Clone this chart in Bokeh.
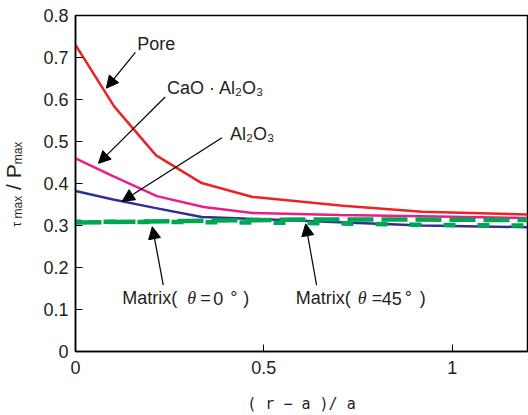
from bokeh.plotting import figure
from bokeh.models import Range1d, FixedTicker, Label, Arrow, NormalHead, Div
from bokeh.layouts import row
from bokeh.embed import file_html
from bokeh.resources import INLINE

# ---- data ----
pore_x = [0, 0.103, 0.214, 0.335, 0.47, 0.71, 0.92, 1.2]
pore_y = [0.73, 0.583, 0.467, 0.401, 0.368, 0.347, 0.333, 0.326]
cao_x = [0, 0.098, 0.216, 0.34, 0.47, 0.7, 0.92, 1.2]
cao_y = [0.46, 0.418, 0.37, 0.344, 0.330, 0.325, 0.322, 0.318]
al_x = [0, 0.1, 0.21, 0.335, 0.5, 0.75, 0.92, 1.2]
al_y = [0.382, 0.362, 0.342, 0.320, 0.315, 0.306, 0.300, 0.296]
m0_x = [0, 0.3, 0.6, 0.9, 1.2]
m0_y = [0.307, 0.311, 0.314, 0.314, 0.313]
m45_x = [0, 0.3, 0.6, 0.9, 1.2]
m45_y = [0.309, 0.308, 0.306, 0.302, 0.300]

y_ticks = [0, 0.1, 0.2, 0.3, 0.4, 0.5, 0.6, 0.7, 0.8]
x_ticks = [0, 0.5, 1]
x_tick_labels = {0: "0", 0.5: "0.5", 1: "1"}

# annotation texts: (text, x, y)
notes = [
    ("Pore", 0.164, 0.733),
    ("CaO · Al₂O₃", 0.243, 0.627),
    ("Al₂O₃", 0.41, 0.517),
]
# matrix labels built from pieces: anchor (x, y), then (text, italic?, pixel offset)
matrix_labels = [
    ((0.124, 0.127), [("Matrix(", False, 0), ("θ", True, 65), ("=", False, 78),
                      ("0", False, 91), ("°", False, 108), (")", False, 121)]),
    ((0.585, 0.127), [("Matrix(", False, 0), ("θ", True, 62), ("=", False, 76),
                      ("45", False, 86), ("°", False, 109), (")", False, 124)]),
]
# arrows: (x_tail, y_tail, x_tip, y_tip)
arrows = [
    (0.159, 0.712, 0.082, 0.627),
    (0.238, 0.606, 0.061, 0.448),
    (0.389, 0.509, 0.124, 0.358),
    (0.233, 0.158, 0.204, 0.297),
    (0.640, 0.158, 0.611, 0.304),
]

FONT = "Liberation Sans"
TXT = "#231f20"

LEFT_W = 40
p = figure(width=528 - LEFT_W, height=415, output_backend="svg", toolbar_location=None,
           x_range=Range1d(0, 1.2), y_range=Range1d(0, 0.8),
           min_border_left=75 - LEFT_W, min_border_right=1, min_border_top=15,
           min_border_bottom=61)
p.grid.visible = False
p.outline_line_color = "black"
p.outline_line_width = 1.5
p.background_fill_color = "white"

for ax in (p.xaxis[0], p.yaxis[0]):
    ax.axis_line_color = "black"
    ax.axis_line_width = 1.5
    ax.major_tick_in = 7
    ax.major_tick_out = 0
    ax.minor_tick_line_color = None
    ax.major_tick_line_color = "black"
    ax.major_label_text_font = FONT
    ax.major_label_text_font_size = "18px"
    ax.major_label_text_color = TXT

p.yaxis.ticker = FixedTicker(ticks=y_ticks)
p.yaxis.major_label_standoff = 7
p.xaxis.ticker = FixedTicker(ticks=x_ticks)
p.xaxis.major_label_overrides = x_tick_labels
p.xaxis.major_label_standoff = 9
p.xaxis.axis_label = "( r − a )/ a"
p.xaxis.axis_label_text_font = "DejaVu Sans Mono"
p.xaxis.axis_label_text_font_style = "normal"
p.xaxis.axis_label_text_font_size = "15px"
p.xaxis.axis_label_text_color = TXT
p.xaxis.axis_label_standoff = 18

# curves
p.line(pore_x, pore_y, line_color="#ed2226", line_width=2.5)
p.line(cao_x, cao_y, line_color="#ec1c8c", line_width=2.5)
p.line(al_x, al_y, line_color="#2e3192", line_width=2.5)
p.line(m0_x, m0_y, line_color="#00a651", line_width=4.5, line_dash="26 8")
p.line(m45_x, m45_y, line_color="#00a651", line_width=4.5, line_dash="12 22", line_dash_offset=6)

for t, x, y in notes:
    p.add_layout(Label(x=x, y=y, text=t, text_font=FONT, text_font_size="18px",
                       text_color=TXT, text_baseline="middle", text_align="left"))

for (ax_, ay_), parts in matrix_labels:
    for t, ital, off in parts:
        p.add_layout(Label(x=ax_, y=ay_, x_offset=off, text=t,
                           text_font="Liberation Serif" if ital else FONT,
                           text_font_style="italic" if ital else "normal",
                           text_font_size="18px", text_color=TXT,
                           text_baseline="middle", text_align="left"))

for x0, y0, x1, y1 in arrows:
    p.add_layout(Arrow(x_start=x0, y_start=y0, x_end=x1, y_end=y1,
                       line_color="black", line_width=1.2,
                       end=NormalHead(size=12, fill_color="black", line_color="black")))

# rotated y-axis label with subscripts
ylabel_html = (
    '<div style="position:absolute; top:227px; left:2px; width:130px; height:24px; '
    'transform-origin:0 0; transform:rotate(-90deg); white-space:nowrap; '
    "font-family:'Liberation Sans', Arial, sans-serif; color:#231f20; font-size:21px; line-height:24px;\">"
    '<span style="font-size:13px">τ</span>'
    '<span style="font-size:12px; vertical-align:-1px"> max</span>'
    '<span> / P</span>'
    '<span style="font-size:12px; vertical-align:-1px">max</span>'
    '</div>'
)
ylab = Div(text=ylabel_html, width=LEFT_W, height=415, margin=0,
           styles={"overflow": "visible", "position": "relative"})

layout = row(ylab, p, spacing=0)
open("out.html", "w").write(file_html(layout, INLINE))
